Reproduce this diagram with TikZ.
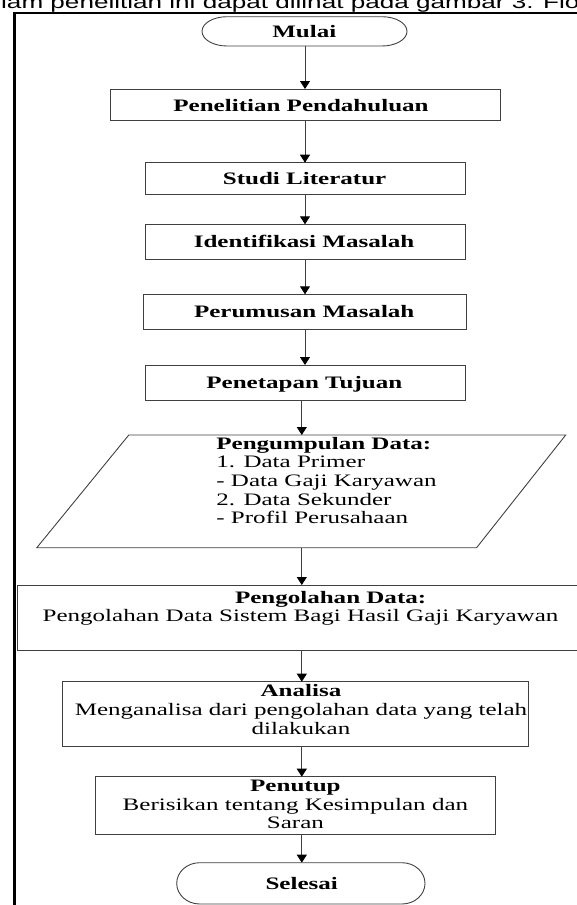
\documentclass[tikz,border=0pt]{standalone}
\usepackage{fontspec}
\setmainfont{Liberation Serif}
\newfontfamily\diagfont{Liberation Serif}[FakeStretch=1.43]
\newfontfamily\headfont{Liberation Sans}[FakeStretch=1.45]
\usetikzlibrary{arrows.meta}
\tikzset{
  boxline/.style={draw=black!75, line width=0.9pt},
  shapebox/.style={boxline, rectangle, inner sep=0pt, outer sep=0pt},
  ghost/.style={rectangle, inner sep=0pt, outer sep=0pt},
  txt/.style={inner sep=0pt, outer sep=0pt, anchor=base, font=\diagfont\fontsize{17.5}{18.7}\selectfont},
  btxt/.style={inner sep=0pt, outer sep=0pt, anchor=base, font=\diagfont\bfseries\fontsize{17.5}{18.7}\selectfont},
  ltxt/.style={txt, anchor=base west},
  lbtxt/.style={btxt, anchor=base west},
  flow/.style={draw=black!75, line width=0.9pt, -{Triangle[length=8pt,width=10pt,color=black]}},
  frameline/.style={draw=black, line width=2.6pt},
}
\begin{document}
\begin{tikzpicture}[x=1pt,y=-1pt]
\useasboundingbox (0,0) rectangle (577,905);
\clip (0,0) rectangle (577,905);
% header text (cut off at the top of the picture)
\node[anchor=base west, inner sep=0pt, font=\headfont\fontsize{18}{20}\selectfont] (hd) at (1,8) {lam penelitian ini dapat dilihat pada gambar 3. Flo};
% frame
\draw[frameline] (14.6,910) -- (14.6,12.9) -- (585,12.9);

% arrow axes
\coordinate (ax1) at (305,0);
\coordinate (ax2) at (301.8,0);

% Mulai terminal
\node[ghost, minimum width=205pt, minimum height=29.3pt] (ml) at (304.5,31.35) {};
\draw[boxline] ([xshift=25pt]ml.north west) -- ([xshift=-25pt]ml.north east)
  arc[start angle=90, end angle=-90, x radius=25pt, y radius=14.65pt]
  -- ([xshift=25pt]ml.south west)
  arc[start angle=270, end angle=90, x radius=25pt, y radius=14.65pt] -- cycle;
\node[btxt] (tml) at (304.3,37) {Mulai};

% boxes
\node[shapebox, minimum width=390pt, minimum height=31.5pt] (pp) at (305,104.75) {};
\node[btxt] (tpp) at (301,111) {Penelitian Pendahuluan};

\node[shapebox, minimum width=320pt, minimum height=31.6pt] (sl) at (305,178.5) {};
\node[btxt] (tsl) at (304.6,184) {Studi Literatur};

\node[shapebox, minimum width=320pt, minimum height=35pt] (im) at (305,241.8) {};
\node[btxt] (tim) at (304,247) {Identifikasi Masalah};

\node[shapebox, minimum width=323.4pt, minimum height=35pt] (pm) at (305,311.8) {};
\node[btxt] (tpm) at (304.2,317.5) {Perumusan Masalah};

\node[shapebox, minimum width=320pt, minimum height=35.7pt] (pt) at (305,382.85) {};
\node[btxt] (tpt) at (304.3,388) {Penetapan Tujuan};

% parallelogram
\node[ghost, minimum width=437pt, minimum height=112.7pt] (pg) at (301.8,491.35) {};
\draw[boxline] (36.8,547.7) -- (128.8,435) -- (565.7,435) -- (476.6,547.7) -- cycle;
\node[lbtxt] (tpg1) at (216.4,449) {Pengumpulan Data:};
\node[ltxt] (tpg2) at (216.4,467.7) {1. Data Primer};
\node[ltxt] (tpg3) at (216.4,486.4) {- Data Gaji Karyawan};
\node[ltxt] (tpg4) at (216.4,505.1) {2. Data Sekunder};
\node[ltxt] (tpg5) at (216.4,523.8) {- Profil Perusahaan};

% Pengolahan
\node[shapebox, minimum width=572.5pt, minimum height=65.5pt] (pd) at (303.75,617.75) {};
\node[btxt] (tpd1) at (330.6,603.3) {Pengolahan Data:};
\node[txt] (tpd2) at (300.5,621.7) {Pengolahan Data Sistem Bagi Hasil Gaji Karyawan};

% Analisa
\node[shapebox, minimum width=466.3pt, minimum height=65pt] (an) at (295.75,714.2) {};
\node[btxt] (tan1) at (301,696.7) {Analisa};
\node[txt] (tan2) at (301,715.4) {Menganalisa dari pengolahan data yang telah};
\node[txt] (tan3) at (301,734.1) {dilakukan};

% Penutup
\node[shapebox, minimum width=400.8pt, minimum height=57.3pt] (pu) at (295.4,805.35) {};
\node[btxt] (tpu1) at (295.4,791.7) {Penutup};
\node[txt] (tpu2) at (295.4,810) {Berisikan tentang Kesimpulan dan};
\node[txt] (tpu3) at (295.4,828.3) {Saran};

% Selesai terminal
\node[ghost, minimum width=248.3pt, minimum height=41.3pt] (se) at (300.85,883.35) {};
\draw[boxline] ([xshift=23pt]se.north west) -- ([xshift=-23pt]se.north east)
  arc[start angle=90, end angle=-90, x radius=23pt, y radius=20.65pt]
  -- ([xshift=23pt]se.south west)
  arc[start angle=270, end angle=90, x radius=23pt, y radius=20.65pt] -- cycle;
\node[btxt] (tse) at (301.7,889.5) {Selesai};

% connectors
\draw[flow] (ml.south -| ax1) -- (pp.north -| ax1);
\draw[flow] (pp.south -| ax1) -- (sl.north -| ax1);
\draw[flow] (sl.south -| ax1) -- (im.north -| ax1);
\draw[flow] (im.south -| ax1) -- (pm.north -| ax1);
\draw[flow] (pm.south -| ax1) -- (pt.north -| ax1);
\draw[flow] (pt.south -| ax2) -- (pg.north -| ax2);
\draw[flow] (pg.south -| ax2) -- (pd.north -| ax2);
\draw[flow] (pd.south -| ax2) -- (an.north -| ax2);
\draw[flow] (an.south -| ax2) -- (pu.north -| ax2);
\draw[flow] (pu.south -| ax2) -- (se.north -| ax2);
\end{tikzpicture}
\end{document}
